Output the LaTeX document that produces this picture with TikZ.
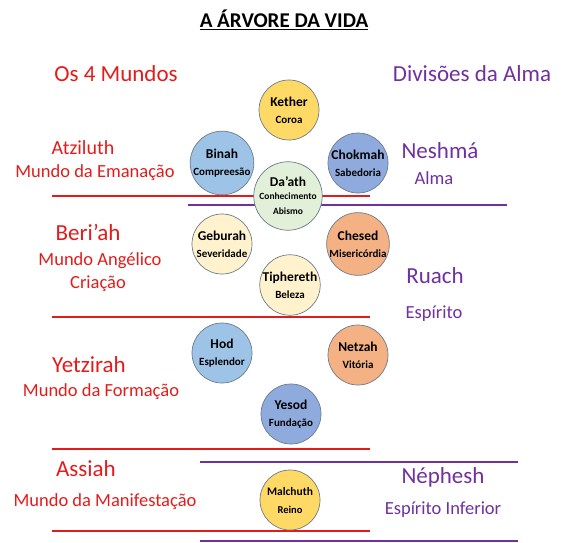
\documentclass[tikz,border=0pt]{standalone}
\usepackage{fontspec}
\setmainfont{Carlito}
\definecolor{mundo}{HTML}{E41B1B}
\definecolor{alma}{HTML}{7030A0}
\definecolor{rim}{HTML}{6B7B8C}
\definecolor{ouro}{HTML}{FFD966}
\definecolor{azul}{HTML}{9DC3E6}
\definecolor{anil}{HTML}{8FAADC}
\definecolor{verde}{HTML}{E2F0D9}
\definecolor{creme}{HTML}{FFF2CC}
\definecolor{laranja}{HTML}{F4B183}
\begin{document}
\begin{tikzpicture}[x=1pt,y=-1pt,
  sefira/.style={circle,draw=rim,line width=0.7pt,minimum size=60pt,inner sep=0pt,align=center,
    font=\bfseries\fontsize{13.5}{17}\selectfont},
  mundohead/.style={text=mundo,font=\fontsize{23}{27}\selectfont},
  mundosub/.style={text=mundo,font=\fontsize{18.5}{22}\selectfont},
  almahead/.style={text=alma,font=\fontsize{23}{27}\selectfont},
  almasub/.style={text=alma,font=\fontsize{18.5}{22}\selectfont},
  redline/.style={draw=mundo,line width=2.4pt},
  purpleline/.style={draw=alma,line width=2.4pt}]
\useasboundingbox (0,0) rectangle (570,543);
\node[font=\bfseries\fontsize{21}{25}\selectfont] (titulo) at (284,20) {\underline{A ÁRVORE DA VIDA}};
\node[mundohead] (mundos) at (116,74) {Os 4 Mundos};
\node[almahead] (divisoes) at (472,74) {Divisões da Alma};
\draw[redline] (52,196) -- (370,196);
\draw[purpleline] (188,205) -- (507,205);
\draw[redline] (52,317) -- (370,317);
\draw[redline] (52,449) -- (370,449);
\draw[purpleline] (200,462) -- (518,462);
\draw[redline] (52,531) -- (370,531);
\draw[purpleline] (200,541) -- (518,541);
\node[sefira,fill=ouro] (kether) at (289,110) {Kether\\{\fontsize{11}{12}\selectfont Coroa}};
\node[sefira,fill=azul] (binah) at (222,163) {Binah\\{\fontsize{11}{12}\selectfont Compreesão}};
\node[sefira,fill=anil] (chokmah) at (358,163) {Chokmah\\{\fontsize{11}{12}\selectfont Sabedoria}};
\node[sefira,fill=verde] (daath) at (288,196) {Da’ath\\[-4pt]{\fontsize{9.5}{13}\selectfont Conhecimento}\\[-2pt]{\fontsize{9.5}{13}\selectfont Abismo}};
\node[sefira,fill=creme] (geburah) at (222,244) {Geburah\\{\fontsize{11}{12}\selectfont Severidade}};
\node[sefira,fill=laranja] (chesed) at (358,244) {Chesed\\{\fontsize{11}{12}\selectfont Misericórdia}};
\node[sefira,fill=creme] (tiphereth) at (290,285) {Tiphereth\\{\fontsize{11}{12}\selectfont Beleza}};
\node[sefira,fill=azul] (hod) at (222,353) {Hod\\{\fontsize{11}{12}\selectfont Esplendor}};
\node[sefira,fill=laranja] (netzah) at (358,355) {Netzah\\{\fontsize{11}{12}\selectfont Vitória}};
\node[sefira,fill=anil] (yesod) at (291,414) {Yesod\\{\fontsize{11}{12}\selectfont Fundação}};
\node[sefira,fill=ouro,font=\bfseries\fontsize{11.5}{18}\selectfont] (malchuth) at (290,500) {Malchuth\\{\fontsize{10.5}{12}\selectfont Reino}};
\node[mundosub,font=\fontsize{20}{24}\selectfont] (atziluth) at (83,148) {Atziluth};
\node[mundosub] (emanacao) at (95,173) {Mundo da Emanação};
\node[mundohead] (beriah) at (88,232) {Beri’ah};
\node[mundosub] (angelico) at (100,261) {Mundo Angélico};
\node[mundosub] (criacao) at (98,284) {Criação};
\node[mundohead] (yetzirah) at (89,365) {Yetzirah};
\node[mundosub] (formacao) at (101,392) {Mundo da Formação};
\node[mundohead] (assiah) at (86,469) {Assiah};
\node[mundosub] (manifestacao) at (105,502) {Mundo da Manifestação};
\node[almahead] (neshma) at (440,151) {Neshmá};
\node[almasub] (almasig) at (434,178) {Alma};
\node[almahead] (ruach) at (435,276) {Ruach};
\node[almasub] (espirito) at (434,314) {Espírito};
\node[almahead] (nephesh) at (443,477) {Néphesh};
\node[almasub] (inferior) at (443,510) {Espírito Inferior};
\end{tikzpicture}
\end{document}
